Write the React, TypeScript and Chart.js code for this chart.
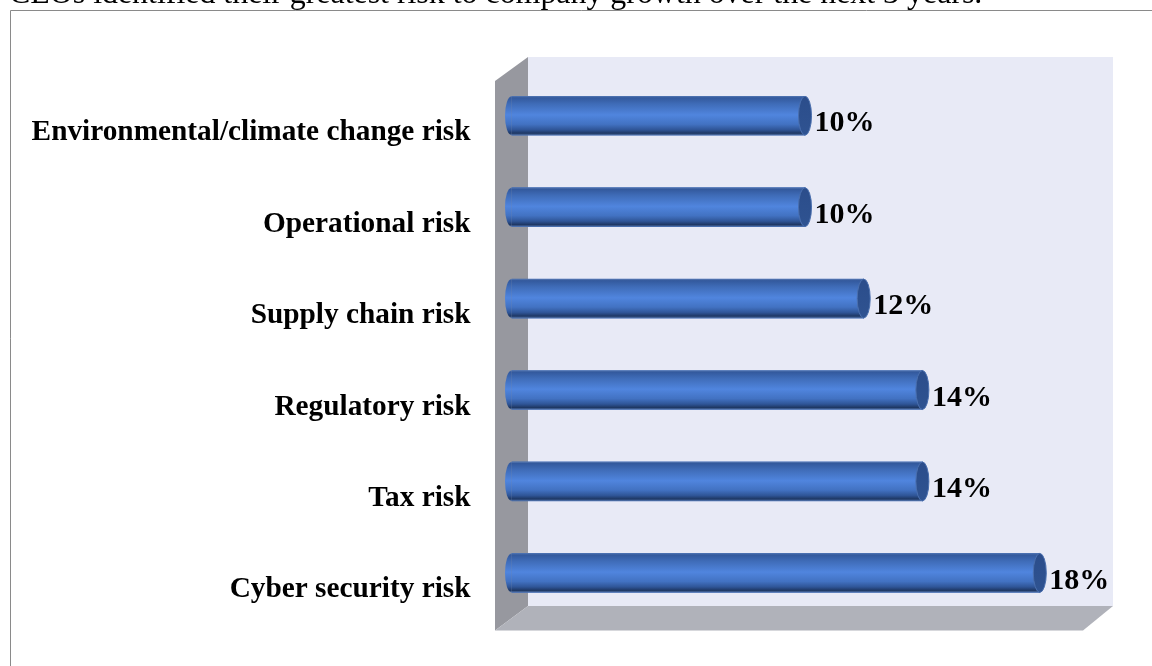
import React, { useEffect, useRef } from "react";
import { Chart, registerables } from "chart.js";

Chart.register(...registerables);

const headline = "CEOs identified their greatest risk to company growth over the next 3 years.";
const categories = [
  "Environmental/climate change risk",
  "Operational risk",
  "Supply chain risk",
  "Regulatory risk",
  "Tax risk",
  "Cyber security risk",
];
const shares = [10, 10, 12, 14, 14, 18];

const SERIF = '"Liberation Serif", "Times New Roman", serif';
const CAP_RX = 6.5;
const BAR_H = 39;

// Vertical cylinder shading shared by the bar bodies and their rounded tails.
function cylinderFill(ctx: CanvasRenderingContext2D, cy: number) {
  const g = ctx.createLinearGradient(0, cy - BAR_H / 2, 0, cy + BAR_H / 2);
  g.addColorStop(0, "#5577b0");
  g.addColorStop(0.04, "#33599d");
  g.addColorStop(0.2, "#3f6cb8");
  g.addColorStop(0.48, "#5085de");
  g.addColorStop(0.72, "#4272c2");
  g.addColorStop(0.86, "#2f5597");
  g.addColorStop(0.95, "#1e3763");
  g.addColorStop(1, "#5577b0");
  return g;
}

// Frame, side wall, floor and back wall of the box behind the bars.
const boxPlugin = {
  id: "box",
  beforeDatasetsDraw(chart: any) {
    const { ctx, chartArea: a } = chart;
    const backL = a.left + 16.5;
    const backR = a.right + 14.5;
    const backT = a.top - 13;
    const backB = a.bottom - 12.5;
    const frontL = a.left - 16.5;
    const frontT = backT + 24;
    const frontB = backB + 24.5;
    const frontR = backR - 30;
    ctx.save();
    ctx.fillStyle = "#e8eaf6";
    ctx.fillRect(backL, backT, backR - backL, backB - backT);
    ctx.fillStyle = "#97989f";
    ctx.beginPath();
    ctx.moveTo(frontL, frontT);
    ctx.lineTo(backL, backT);
    ctx.lineTo(backL, backB);
    ctx.lineTo(frontL, frontB);
    ctx.closePath();
    ctx.fill();
    ctx.fillStyle = "#b0b2ba";
    ctx.beginPath();
    ctx.moveTo(frontL, frontB);
    ctx.lineTo(backL, backB);
    ctx.lineTo(backR, backB);
    ctx.lineTo(frontR, frontB);
    ctx.closePath();
    ctx.fill();
    ctx.strokeStyle = "#8a8a8a";
    ctx.lineWidth = 1;
    ctx.beginPath();
    ctx.moveTo(10.5, chart.height);
    ctx.lineTo(10.5, 10.5);
    ctx.lineTo(chart.width, 10.5);
    ctx.stroke();
    ctx.restore();
  },
};

// Elliptical ends on each bar and the percentage printed beyond them.
const cylinderPlugin = {
  id: "cylinder",
  afterDatasetsDraw(chart: any) {
    const { ctx } = chart;
    const values = chart.data.datasets[0].data;
    chart.getDatasetMeta(0).data.forEach((bar: any, i: number) => {
      const ry = BAR_H / 2;
      ctx.save();
      ctx.fillStyle = cylinderFill(ctx, bar.y);
      ctx.fillRect(bar.base, bar.y - ry, bar.x - bar.base, BAR_H);
      ctx.beginPath();
      ctx.ellipse(bar.base, bar.y, CAP_RX, ry, 0, Math.PI / 2, (Math.PI * 3) / 2);
      ctx.closePath();
      ctx.fill();
      const end = ctx.createLinearGradient(0, bar.y - ry, 0, bar.y + ry);
      end.addColorStop(0, "#2b4d8b");
      end.addColorStop(1, "#2f5391");
      ctx.fillStyle = end;
      ctx.strokeStyle = "#4a6fae";
      ctx.lineWidth = 1;
      ctx.beginPath();
      ctx.ellipse(bar.x, bar.y, CAP_RX, ry, 0, 0, Math.PI * 2);
      ctx.fill();
      ctx.stroke();
      ctx.fillStyle = "#000";
      ctx.font = `bold 30px ${SERIF}`;
      ctx.textAlign = "left";
      ctx.textBaseline = "middle";
      ctx.fillText(`${values[i]}%`, bar.x + CAP_RX + 3, bar.y + 8);
      ctx.restore();
    });
  },
};

export default function App() {
  const ref = useRef<HTMLCanvasElement>(null);

  useEffect(() => {
    const chart = new Chart(ref.current!, {
      type: "bar",
      data: {
        labels: categories,
        datasets: [
          {
            data: shares,
            barThickness: BAR_H,
            backgroundColor: "#3d69b4",
          },
        ],
      },
      options: {
        indexAxis: "y",
        responsive: false,
        animation: false,
        layout: { padding: { left: 0, right: 53.5, top: 70, bottom: 47.4 } },
        plugins: { legend: { display: false }, tooltip: { enabled: false } },
        scales: {
          x: { display: false, min: 0, max: 20 },
          y: {
            afterFit(scale: any) {
              scale.width = 511.5;
              scale.paddingTop = 0;
              scale.paddingBottom = 0;
            },
            grid: { display: false },
            border: { display: false },
            ticks: {
              color: "#000",
              padding: 33,
              labelOffset: 17,
              font: { family: SERIF, size: 29.3, weight: "bold" },
            },
          },
        },
      },
      plugins: [boxPlugin, cylinderPlugin],
    } as any);
    return () => chart.destroy();
  }, []);

  return (
    <div style={{ position: "fixed", inset: 0, overflow: "hidden", background: "#fff" }}>
      <canvas ref={ref} width={1152} height={666} style={{ display: "block" }} />
      <div
        style={{
          position: "absolute",
          left: 9,
          top: -25,
          whiteSpace: "nowrap",
          fontFamily: SERIF,
          fontSize: 31.9,
          color: "#000",
        }}
      >
        {headline}
      </div>
    </div>
  );
}
